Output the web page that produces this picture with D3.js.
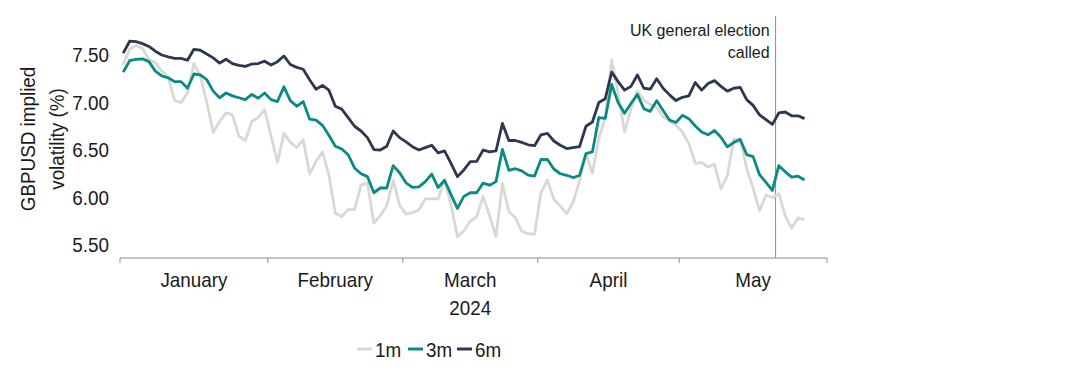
<!DOCTYPE html>
<html><head><meta charset="utf-8">
<script src="https://cdn.jsdelivr.net/npm/d3@7"></script>
<style>
html,body{margin:0;padding:0;background:#fff;}
svg{display:block;font-family:"Liberation Sans",Arial,sans-serif;}
</style></head>
<body><svg id="c" width="1088" height="380"></svg>
<script>
// ---- data (business days from 1 Jan 2024) ----
const seriesNames = ["1m", "3m", "6m"];
const seriesColors = ["#d9d8d2", "#0a8a84", "#2c3850"];
const vol1m = [7.40,7.56,7.60,7.57,7.45,7.42,7.33,7.27,7.02,7.00,7.10,7.41,7.28,7.00,6.685,6.80,6.89,6.87,6.645,6.60,
 6.80,6.84,6.925,6.65,6.37,6.676,6.58,6.525,6.608,6.247,6.38,6.48,6.24,5.833,5.80,5.873,5.872,6.13,6.156,5.73,
 5.81,5.91,6.182,5.92,5.825,5.84,5.872,5.985,5.985,5.985,6.185,5.92,5.588,5.65,5.75,5.80,6.01,5.81,5.588,6.146,
 5.85,5.79,5.645,5.62,5.616,6.05,6.183,5.98,5.91,5.83,5.95,6.172,6.46,6.255,6.62,6.84,7.445,7.10,6.69,6.93,
 7.12,7.025,6.98,6.95,6.85,6.81,6.76,6.69,6.57,6.36,6.37,6.32,6.35,6.09,6.23,6.615,6.615,6.305,6.10,5.86,
 6.026,6.00,6.04,5.808,5.675,5.785,5.765];
const vol3m = [7.32,7.44,7.455,7.46,7.43,7.33,7.28,7.26,7.22,7.22,7.15,7.30,7.29,7.24,7.12,7.05,7.10,7.07,7.05,7.03,
 7.085,7.045,7.10,7.03,7.01,7.165,7.02,6.96,7.01,6.825,6.815,6.76,6.655,6.54,6.51,6.45,6.31,6.25,6.22,6.05,
 6.10,6.10,6.335,6.26,6.155,6.107,6.112,6.167,6.247,6.105,6.182,6.03,5.886,6.012,6.05,6.05,6.152,6.13,6.167,6.507,
 6.285,6.303,6.28,6.236,6.226,6.40,6.40,6.30,6.25,6.234,6.21,6.232,6.462,6.48,6.842,6.832,7.19,7.00,6.886,6.99,
 7.085,6.935,6.907,7.02,6.915,6.815,6.79,6.865,6.83,6.753,6.69,6.66,6.705,6.635,6.533,6.58,6.61,6.452,6.43,6.24,
 6.16,6.075,6.335,6.27,6.215,6.224,6.185];
const vol6m = [7.52,7.645,7.64,7.62,7.59,7.54,7.50,7.48,7.465,7.465,7.445,7.56,7.55,7.51,7.47,7.415,7.455,7.41,7.39,7.38,
 7.405,7.41,7.435,7.395,7.43,7.49,7.40,7.37,7.35,7.24,7.14,7.18,7.13,6.96,6.93,6.84,6.75,6.70,6.63,6.505,
 6.50,6.54,6.70,6.63,6.585,6.535,6.50,6.525,6.55,6.47,6.49,6.36,6.22,6.29,6.377,6.38,6.50,6.48,6.49,6.78,
 6.60,6.60,6.58,6.555,6.545,6.66,6.675,6.595,6.55,6.515,6.525,6.535,6.75,6.795,7.00,7.04,7.32,7.22,7.13,7.17,
 7.29,7.15,7.14,7.25,7.15,7.08,7.02,7.055,7.07,7.21,7.13,7.20,7.23,7.17,7.12,7.15,7.16,7.03,6.97,6.87,
 6.82,6.77,6.89,6.90,6.86,6.86,6.83];
const yTicks = [5.5, 6.0, 6.5, 7.0, 7.5];
const monthLabels = ["January", "February", "March", "April", "May"];
const yearLabel = "2024";
const yTitle = ["GBPUSD implied", "volatility (%)"];
const eventDate = "2024-05-22";
const eventLabel = ["UK general election", "called"];

// ---- categories: weekdays Jan-May 2024 ----
const parse = d3.timeParse("%Y-%m-%d");
const days = d3.timeDay.range(new Date(2024,0,1), new Date(2024,5,1)).filter(d => d.getDay() !== 0 && d.getDay() !== 6);
const series = [vol1m, vol3m, vol6m];

const svg = d3.select("#c");
const x = d3.scaleBand().domain(days.map((d,i)=>i)).range([120, 827]).padding(0);
const y = d3.scaleLinear().domain([5.5, 7.5]).range([245, 55]);
const axisY = 258, topY = 16;
const FS = 20.5, SX = 0.92, TXT = "#1a1a1a";

// helper: horizontally condensed text
function ctext(sel, tx, ty, str, anchor, extra) {
  return sel.append("text")
    .attr("transform", `translate(${tx},${ty})${extra || ""} scale(${SX},1)`)
    .attr("text-anchor", anchor).attr("font-size", FS).attr("fill", TXT).text(str);
}

// y tick labels
const gy = svg.append("g");
yTicks.forEach(t => ctext(gy, 109, y(t), d3.format(".2f")(t), "end").attr("dy", "0.36em"));

// y title
ctext(svg, 35, 139, yTitle[0], "middle", " rotate(-90)");
ctext(svg, 64, 139, yTitle[1], "middle", " rotate(-90)");

// x axis line + month ticks
svg.append("line").attr("x1", 120).attr("x2", 827).attr("y1", axisY).attr("y2", axisY)
  .attr("stroke", "#8c8c8c").attr("stroke-width", 1);
const monthStarts = [];
days.forEach((d,i) => { if (i === 0 || d.getMonth() !== days[i-1].getMonth()) monthStarts.push(i); });
const tickXs = monthStarts.map(i => x(i)).concat([x.range()[1]]);
svg.append("g").selectAll("line").data(tickXs).join("line")
  .attr("x1", d => d).attr("x2", d => d).attr("y1", axisY).attr("y2", axisY + 5)
  .attr("stroke", "#8c8c8c").attr("stroke-width", 1);
const gx = svg.append("g");
monthLabels.forEach((m,k) => ctext(gx, (tickXs[k] + tickXs[k+1]) / 2, 287, m, "middle"));
ctext(gx, (tickXs[2] + tickXs[3]) / 2, 315, yearLabel, "middle");

// event line
const evIdx = days.findIndex(d => +d === +parse(eventDate));
const evX = x(evIdx);
svg.append("line").attr("x1", evX).attr("x2", evX).attr("y1", topY).attr("y2", axisY)
  .attr("stroke", "#8c8c8c").attr("stroke-width", 1);
svg.append("g").selectAll("text").data(eventLabel).join("text")
  .attr("x", evX - 6).attr("y", (d,k) => 36 + k * 21.5)
  .attr("text-anchor", "end").attr("font-size", 16).attr("fill", TXT).text(d => d);

// lines
const line = d3.line().x((d,i) => x(i) + x.bandwidth()/2).y(d => y(d));
svg.append("g").selectAll("path").data(series).join("path")
  .attr("d", d => line(d)).attr("fill", "none")
  .attr("stroke", (d,k) => seriesColors[k]).attr("stroke-width", 2.8)
  .attr("stroke-linejoin", "round");

// legend
const legX = [357, 408, 457];
const lg = svg.append("g");
seriesNames.forEach((n,k) => {
  lg.append("line").attr("x1", legX[k]).attr("x2", legX[k] + 15).attr("y1", 349).attr("y2", 349)
    .attr("stroke", seriesColors[k]).attr("stroke-width", 3);
  ctext(lg, legX[k] + 18, 356.5, n, "start");
});
</script></body></html>
